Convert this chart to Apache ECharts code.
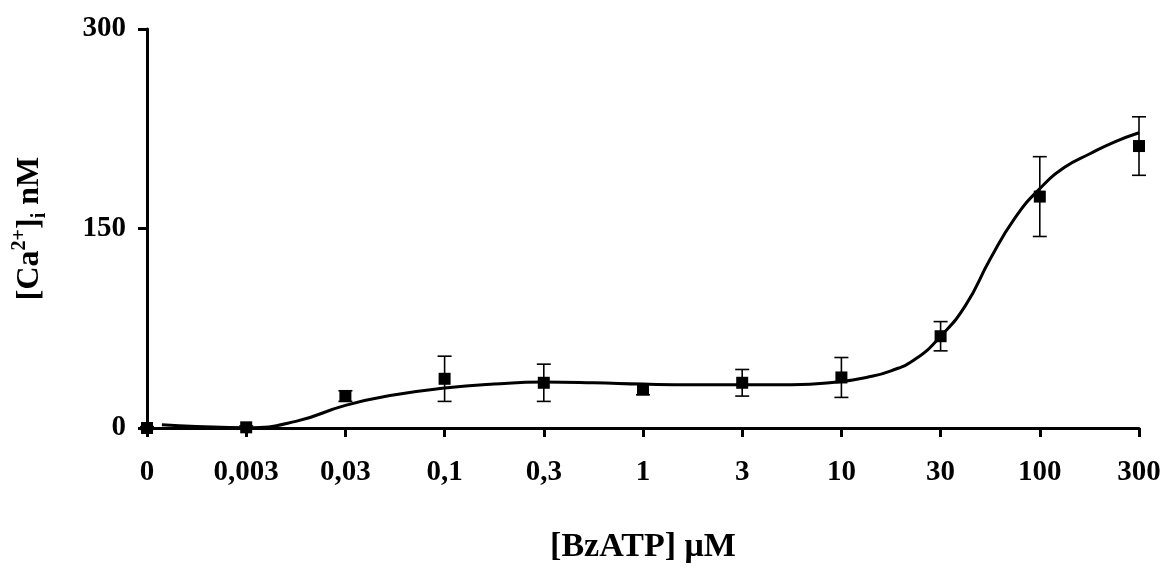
<!DOCTYPE html>
<html>
<head>
<meta charset="utf-8">
<script src="https://cdn.jsdelivr.net/npm/echarts@6/dist/echarts.min.js"></script>
<style>html,body{margin:0;padding:0;background:#fff;}#c{width:1166px;height:569px;}</style>
</head>
<body>
<div id="c"></div>
<script>
// Tick labels for the (broken log) concentration axis, µM
const categories = ['0', '0,003', '0,03', '0,1', '0,3', '1', '3', '10', '30', '100', '300'];
// Mean [Ca2+]i (nM) at each concentration
const means = [0, 0.5, 24, 37, 34, 29, 34, 38, 69, 174, 212];
// Error (± nM)
const errors = [1, 1, 4, 17, 14, 4, 10, 15, 11, 30, 22];
// Fitted curve: [category position, nM]
const curveX = [0.15, 0.5, 1, 1.5, 2, 2.5, 3, 3.5, 4, 4.5, 5, 5.5, 6, 6.5, 7, 7.25, 7.5, 7.75, 8, 8.25, 8.5, 8.75, 9, 9.25, 9.5, 9.75, 10];
const curveY = [2.5, 1.2, 0.2, 5, 17, 25, 30, 33, 34.5, 34, 33, 32.5, 32.5, 32.5, 35, 38, 43, 52, 69, 92, 127, 158, 180, 196, 206, 215, 222];
const yTicks = [0, 150, 300];

const pts = means.map((m, i) => [i, m]);
const errData = means.map((m, i) => [i, m - errors[i], m + errors[i]]);
const curve = curveX.map((x, i) => [x, curveY[i]]);

const font = 'Liberation Serif';
const chart = echarts.init(document.getElementById('c'));
chart.setOption({
  animation: false,
  backgroundColor: '#fff',
  grid: { left: 147, right: 27, top: 29, bottom: 136 },
  xAxis: {
    type: 'value', min: 0, max: categories.length - 1, interval: 1,
    splitLine: { show: false },
    axisLine: { lineStyle: { color: '#000', width: 3 } },
    axisTick: { show: true, inside: false, length: 9, lineStyle: { color: '#000', width: 3 } },
    axisLabel: { color: '#000', fontFamily: font, fontWeight: 'bold', fontSize: 29, margin: 30,
      formatter: v => categories[Math.round(v)] },
    name: '[BzATP] μM', nameLocation: 'middle', nameGap: 102,
    nameTextStyle: { color: '#000', fontFamily: font, fontWeight: 'bold', fontSize: 34 }
  },
  yAxis: {
    type: 'value', min: 0, max: 300, interval: 150,
    splitLine: { show: false },
    axisLine: { show: true, lineStyle: { color: '#000', width: 3 } },
    axisTick: { show: true, length: 9, lineStyle: { color: '#000', width: 3 } },
    axisLabel: { color: '#000', fontFamily: font, fontWeight: 'bold', fontSize: 29, margin: 21,
      formatter: v => yTicks.includes(v) ? String(v) : '' },
    name: '{a|[Ca}{sup|2+}{a|]}{sub|i}{a| nM}', nameLocation: 'middle', nameGap: 97, nameRotate: 90,
    nameTextStyle: {
      color: '#000', fontFamily: font, fontWeight: 'bold', fontSize: 32,
      rich: {
        a: { fontFamily: font, fontWeight: 'bold', fontSize: 32, color: '#000', lineHeight: 40 },
        sup: { fontFamily: font, fontWeight: 'bold', fontSize: 20, color: '#000', verticalAlign: 'top', lineHeight: 40, padding: [0, 0, 16, 0] },
        sub: { fontFamily: font, fontWeight: 'bold', fontSize: 20, color: '#000', verticalAlign: 'bottom', lineHeight: 40, padding: [14, 0, 0, 0] }
      }
    }
  },
  series: [
    {
      type: 'custom', name: 'err', data: errData, z: 2,
      renderItem: function (params, api) {
        const x = api.value(0);
        const lo = api.coord([x, api.value(1)]);
        const hi = api.coord([x, api.value(2)]);
        const w = 7;
        const st = { stroke: '#000', lineWidth: 1.6 };
        return { type: 'group', children: [
          { type: 'line', shape: { x1: lo[0], y1: lo[1], x2: hi[0], y2: hi[1] }, style: st },
          { type: 'line', shape: { x1: lo[0] - w, y1: lo[1], x2: lo[0] + w, y2: lo[1] }, style: st },
          { type: 'line', shape: { x1: hi[0] - w, y1: hi[1], x2: hi[0] + w, y2: hi[1] }, style: st }
        ]};
      }
    },
    {
      type: 'line', data: curve, smooth: 0.5, showSymbol: false, z: 3,
      lineStyle: { color: '#000', width: 3 }
    },
    {
      type: 'scatter', data: pts, symbol: 'rect', symbolSize: 12, z: 4,
      itemStyle: { color: '#000', opacity: 1 }
    }
  ]
});
</script>
</body>
</html>
